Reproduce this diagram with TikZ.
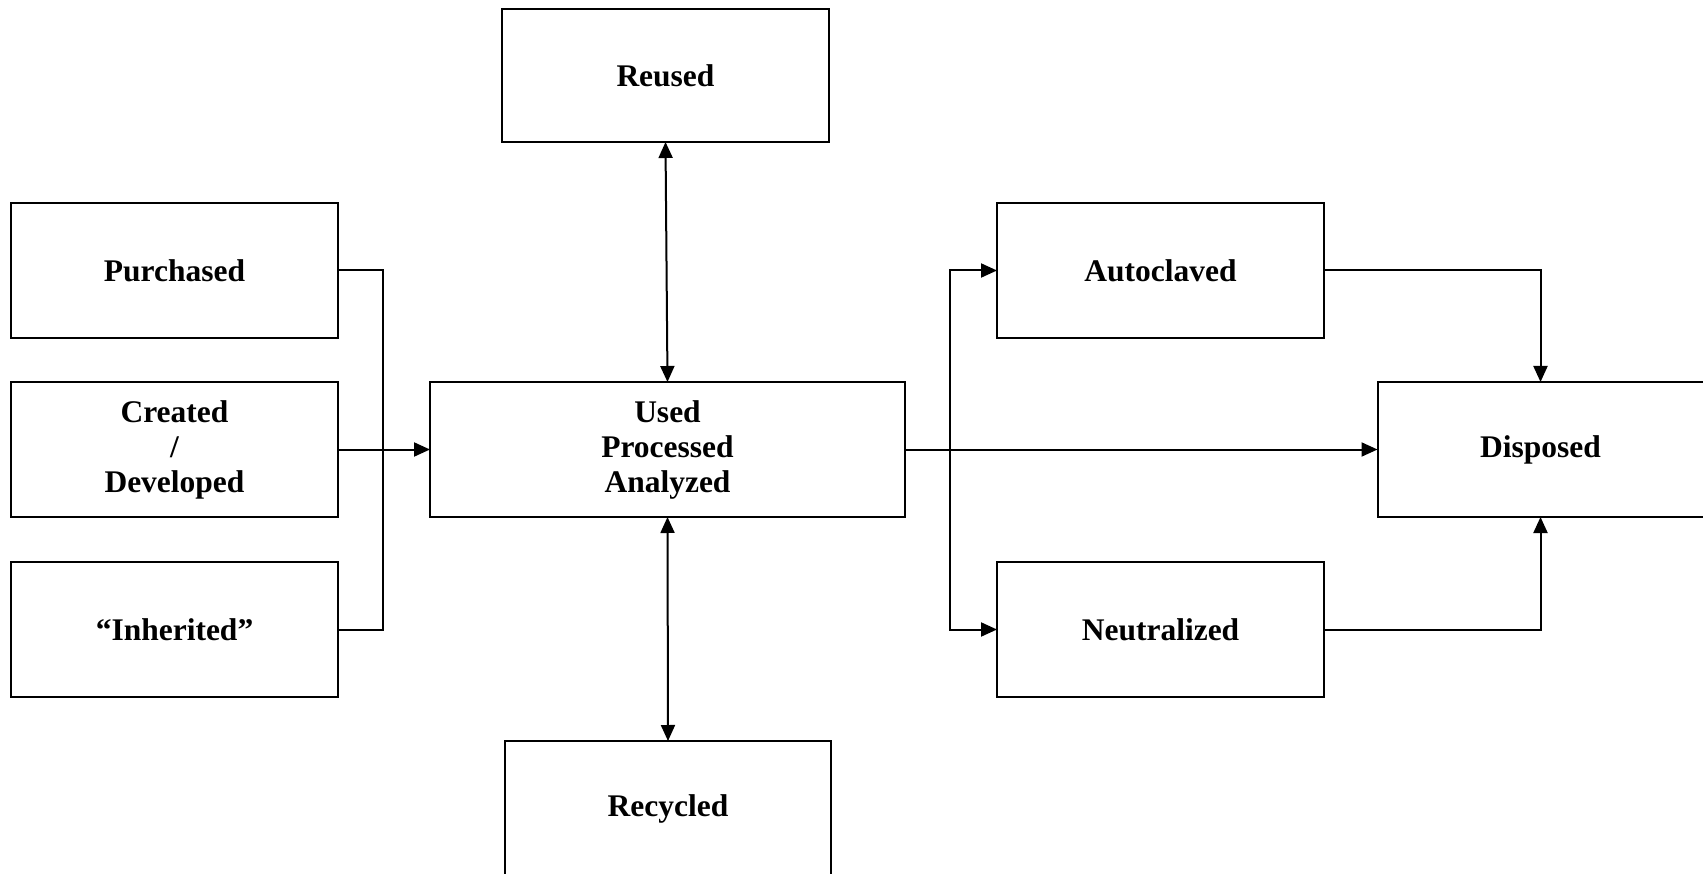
\documentclass[tikz,border=0pt]{standalone}
\usepackage{fontspec}
\setmainfont{Liberation Serif}
\usetikzlibrary{arrows.meta}
\tikzset{
  box/.style={draw, line width=2pt, rectangle, outer sep=0pt, inner sep=2pt, align=center,
    minimum width=327pt, minimum height=135pt,
    font=\fontsize{31.5}{35}\selectfont\bfseries},
  conn/.style={line width=2pt},
  arr/.style={conn, -{Triangle[length=16pt,width=14pt]}},
  arrb/.style={conn, {Triangle[length=16pt,width=14pt]}-{Triangle[length=16pt,width=14pt]}}
}
\begin{document}
\begin{tikzpicture}[x=1pt,y=-1pt]
\useasboundingbox (0,0) rectangle (1703,874);
\clip (0,0) rectangle (1703,874);
\node[box] (P) at (174.5,270.5) {Purchased};
\node[box] (C) at (174.5,449.5) {Created\\/\\Developed};
\node[box] (I) at (174.5,629.5) {“Inherited”};
\node[box, minimum width=475pt] (U) at (667.5,449.5) {Used\\Processed\\Analyzed};
\node[box, minimum height=133pt] (R) at (665.5,75.5) {Reused};
\node[box, minimum width=326pt] (Y) at (668,808.5) {Recycled};
\node[box] (A) at (1160.5,270.5) {Autoclaved};
\node[box] (N) at (1160.5,629.5) {Neutralized};
\node[box, minimum width=326pt] (D) at (1540.5,449.5) {Disposed};
\coordinate (lb) at (383,449.5);
\coordinate (rb) at (950,449.5);
\draw[conn] (P.east) -| (lb) |- (I.east);
\draw[arr] (C.east) -- (U.west);
\draw[arr] (U.east) -- (D.west);
\draw[arr] (rb) |- (A.west);
\draw[arr] (rb) |- (N.west);
\draw[arr] (A.east) -| (D.north);
\draw[arr] (N.east) -| (D.south);
\draw[arrb] (R.south) -- (U.north);
\draw[arrb] (U.south) -- (Y.north);
\end{tikzpicture}
\end{document}
